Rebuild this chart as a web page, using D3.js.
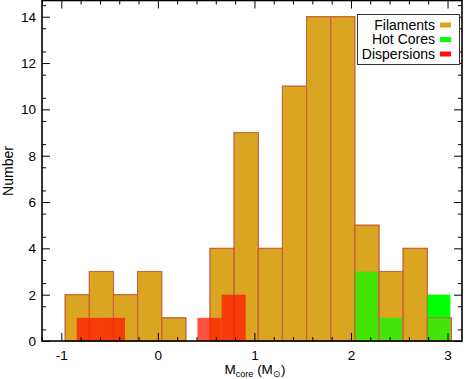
<!DOCTYPE html>
<meta charset="utf-8">
<html>
<head>
<style>
    body { margin: 0; background: white; }
    text { font-family: "Liberation Sans", Arial, Helvetica, sans-serif; }
</style>
</head>
<body>
<div id="my_dataviz"></div>
<script src="https://d3js.org/d3.v7.min.js"></script>
<script>

    // histogram bins: first left edge + bin width, then counts
    var binWidth = 0.25;
    var filStart = -0.96;
    var filCounts = [2, 3, 2, 3, 1, 0, 4, 9, 4, 11, 14, 14, 5, 3, 4, 1];
    var hotStart = 2.03;
    var hotCounts = [3, 1, 0, 2];
    var dispStart = -0.84;
    var dispCounts = [1, 1, 0, 0, 0, 1, 2];

    // ticks
    var xTicks = [-1, 0, 1, 2, 3];
    var yTicks = [0, 2, 4, 6, 8, 10, 12, 14];
    var legendNames = ["Filaments", "Hot Cores", "Dispersions"];

    // colours
    var filColor = "#daa520";
    var filEdge = "#c8643c";
    var hotColor = "#00ff00";
    var dispColor = "#ff1a00";
    var legendColors = [filColor, hotColor, "#ff1010"];

    var width = 469, height = 379;
    // plot box (note: "top" is taken by window.top, so prefix these)
    var pLeft = 42, pRight = 462, pTop = 0.5, pBottom = 341;

    var svg = d3.select("#my_dataviz")
        .append("svg")
        .attr("width", width)
        .attr("height", height);

    var x = d3.scaleLinear().domain([-1.2, 3.15]).range([pLeft, pRight]);
    var y = d3.scaleLinear().domain([0, 14.7]).range([pBottom, pTop]);

    // turn a start + counts list into bins
    function makeBins(start, counts) {
        return counts.map(function(c, i) {
            return {x0: start + i * binWidth, x1: start + (i + 1) * binWidth, n: c};
        }).filter(function(d) { return d.n > 0; });
    }

    function drawBars(bins, cls) {
        return svg.append("g").attr("class", cls)
            .selectAll("rect")
            .data(bins)
            .enter()
            .append("rect")
            .attr("x", function(d) { return x(d.x0); })
            .attr("y", function(d) { return y(d.n); })
            .attr("width", function(d) { return x(d.x1) - x(d.x0); })
            .attr("height", function(d) { return y(0) - y(d.n); });
    }

    var filBins = makeBins(filStart, filCounts);

    // filaments
    drawBars(filBins, "fil")
        .style("fill", filColor)
        .style("stroke", filEdge)
        .style("stroke-width", 1);

    // hot cores
    drawBars(makeBins(hotStart, hotCounts), "hot")
        .style("fill", hotColor);

    // filaments again, faint, so the overlap gets mixed
    drawBars(filBins, "fil-over")
        .style("fill", filColor)
        .style("fill-opacity", 0.3)
        .style("stroke", filEdge)
        .style("stroke-width", 1);

    // dispersions
    drawBars(makeBins(dispStart, dispCounts), "disp")
        .style("fill", dispColor)
        .style("opacity", 0.75);

    // ---- axes ----
    var xMinor = d3.range(-1.2, 3.15, 0.2).filter(function(v) {
        return Math.abs(v - Math.round(v)) > 0.01;
    });
    var yMinor = d3.range(0.5, 14.7, 1);

    function addAxis(axis, tx, ty) {
        var g = svg.append("g")
            .attr("transform", "translate(" + tx + "," + ty + ")")
            .call(axis);
        g.select(".domain").remove();
        g.selectAll("line").style("stroke", "black").style("stroke-width", 1);
        g.selectAll("text")
            .style("font-size", "13.5px")
            .style("fill", "black");
        return g;
    }

    // bottom
    addAxis(d3.axisBottom(x).tickValues(xTicks).tickSize(-8).tickPadding(9)
        .tickFormat(function(d) { return String(d); }), 0, pBottom);
    addAxis(d3.axisBottom(x).tickValues(xMinor).tickSize(-4).tickFormat(""), 0, pBottom);
    // top
    addAxis(d3.axisTop(x).tickValues(xTicks).tickSize(-8).tickFormat(""), 0, pTop);
    addAxis(d3.axisTop(x).tickValues(xMinor).tickSize(-4).tickFormat(""), 0, pTop);
    // left
    addAxis(d3.axisLeft(y).tickValues(yTicks).tickSize(-8).tickPadding(6)
        .tickFormat(function(d) { return String(d); }), pLeft, 0);
    addAxis(d3.axisLeft(y).tickValues(yMinor).tickSize(-4).tickFormat(""), pLeft, 0);
    // right
    addAxis(d3.axisRight(y).tickValues(yTicks).tickSize(-8).tickFormat(""), pRight, 0);
    addAxis(d3.axisRight(y).tickValues(yMinor).tickSize(-4).tickFormat(""), pRight, 0);

    // frame
    svg.append("rect")
        .attr("x", pLeft)
        .attr("y", pTop)
        .attr("width", pRight - pLeft)
        .attr("height", pBottom - pTop)
        .style("fill", "none")
        .style("stroke", "black")
        .style("stroke-width", 1.6);

    // axis titles
    var xl = svg.append("text")
        .attr("x", 255)
        .attr("y", 374)
        .style("text-anchor", "middle")
        .style("font-size", "13.5px");
    xl.append("tspan").text("M");
    xl.append("tspan").attr("dy", 3).style("font-size", "9px").text("core");
    xl.append("tspan").attr("dy", -3).text(" (M");
    xl.append("tspan").attr("dy", 3).style("font-size", "9px").text("\u2299");
    xl.append("tspan").attr("dy", -3).text(")");

    svg.append("text")
        .attr("transform", "translate(13,171) rotate(-90)")
        .style("text-anchor", "middle")
        .style("font-size", "14px")
        .text("Number");

    // legend
    var leg = svg.append("g");
    leg.append("rect")
        .attr("x", 357.5)
        .attr("y", 14.5)
        .attr("width", 102)
        .attr("height", 50)
        .style("fill", "white")
        .style("stroke", "#333")
        .style("stroke-width", 1);

    legendNames.forEach(function(name, i) {
        var cy = 24.5 + i * 14.5;
        leg.append("text")
            .attr("x", 435)
            .attr("y", cy + 5)
            .style("text-anchor", "end")
            .style("font-size", "14px")
            .text(name);
        leg.append("rect")
            .attr("x", 440)
            .attr("y", cy - 2)
            .attr("width", 11)
            .attr("height", 5)
            .style("fill", legendColors[i]);
    });

</script>
</body>
</html>
